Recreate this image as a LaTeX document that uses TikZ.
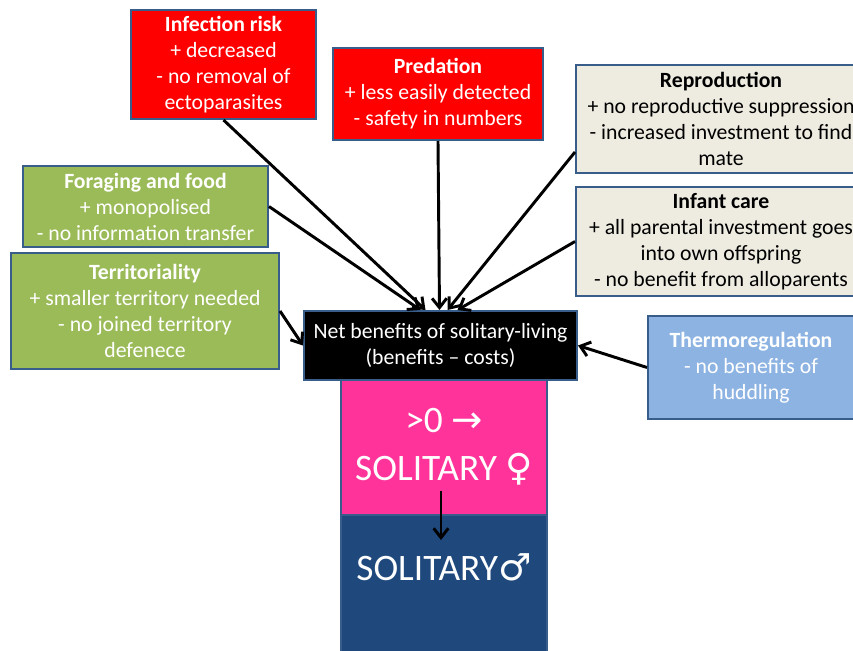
\documentclass[tikz,border=0pt]{standalone}
\usepackage{fontspec}
\setmainfont{Carlito}
\newfontfamily\symbfont{DejaVu Sans}
\usepackage{xcolor}
\usepackage{tikz}
\usetikzlibrary{arrows.meta,
                calc,
                positioning}

\definecolor{boxedge}{HTML}{385D8A}
\definecolor{riskred}{HTML}{FF0000}
\definecolor{foodgreen}{HTML}{9BBB59}
\definecolor{reprotan}{HTML}{EEECE1}
\definecolor{thermoblue}{HTML}{8DB3E2}
\definecolor{femalepink}{HTML}{FF3399}
\definecolor{maleblue}{HTML}{1F497D}

\newcommand{\sexsym}[1]{{\symbfont\fontsize{28}{36}\selectfont #1}}

\tikzset{
  factor/.style={draw=boxedge, line width=1.5pt, align=center, inner sep=2pt,
                 font=\fontsize{16.3}{19.5}\selectfont},
  bigtext/.style={text=white, align=center, font=\fontsize{28}{36}\selectfont},
  arr/.style={-{Straight Barb[length=7pt,width=11pt]}, line width=2.2pt}
}

\begin{document}
\begin{tikzpicture}[x=0.75pt, y=-0.75pt]
\useasboundingbox (0,0) rectangle (853,650);

% factor boxes
\node[factor, fill=riskred, text=white, minimum width=138.75pt, minimum height=81.75pt]
  (inf) at (223.5,64.5) {\textbf{Infection risk}\\+ decreased\\- no removal of\\ectoparasites};
\node[factor, fill=riskred, text=white, minimum width=157.5pt, minimum height=69pt]
  (pred) at (438,94) {\textbf{Predation}\\+ less easily detected\\- safety in numbers};
\node[factor, fill=reprotan, minimum width=217.5pt, minimum height=81pt]
  (repro) at (721,119) {\textbf{Reproduction}\\+ no reproductive suppression\\- increased investment to find\\mate};
\node[factor, fill=reprotan, minimum width=217.5pt, minimum height=81.75pt]
  (infant) at (721,241.5) {\textbf{Infant care}\\+ all parental investment goes\\into own offspring\\- no benefit from alloparents};
\node[factor, fill=foodgreen, text=white, minimum width=183.75pt, minimum height=60.75pt]
  (forage) at (145.5,206.5) {\textbf{Foraging and food}\\+ monopolised\\- no information transfer};
\node[factor, fill=foodgreen, text=white, minimum width=201pt, minimum height=87pt]
  (terr) at (145,311) {\textbf{Territoriality}\\+ smaller territory needed\\- no joined territory\\defenece};
\node[factor, fill=thermoblue, text=white, minimum width=154.5pt, minimum height=77.25pt]
  (thermo) at (751,367.5) {\textbf{Thermoregulation}\\- no benefits of\\huddling};

% outcome column
\node[factor, fill=maleblue, minimum width=154.5pt, minimum height=112.5pt] (male) at (444,590) {};
\node[factor, fill=femalepink, bigtext, minimum width=154.5pt, minimum height=102pt]
  (female) at (444,447) {>0 \sexsym{→}\\SOLITARY \sexsym{♀}};
\node[bigtext] (maletxt) at ($(male.north)+(0,53)$) {SOLITARY\sexsym{♂}};
\node[factor, fill=black, text=white, minimum width=204.75pt, minimum height=51.75pt]
  (net) at (440.5,345.5) {Net benefits of solitary-living\\(benefits -- costs)};

% connectors
\foreach \src/\dx in {inf.south/-15, forage.east/-20, pred.south/-1, infant.west/17}
  \draw[arr] (\src) -- ($(net.north)+(\dx,0)$);
\draw[arr] ($(repro.west)+(0,33)$) -- ($(net.north)+(7,0)$);
\draw[arr] (terr.east) -- (net.west);
\draw[arr] (thermo.west) -- (net.east);
\draw[arr] ($(female.south)+(-3,-25)$) -- ($(male.north)+(-3,26)$);
\end{tikzpicture}
\end{document}
